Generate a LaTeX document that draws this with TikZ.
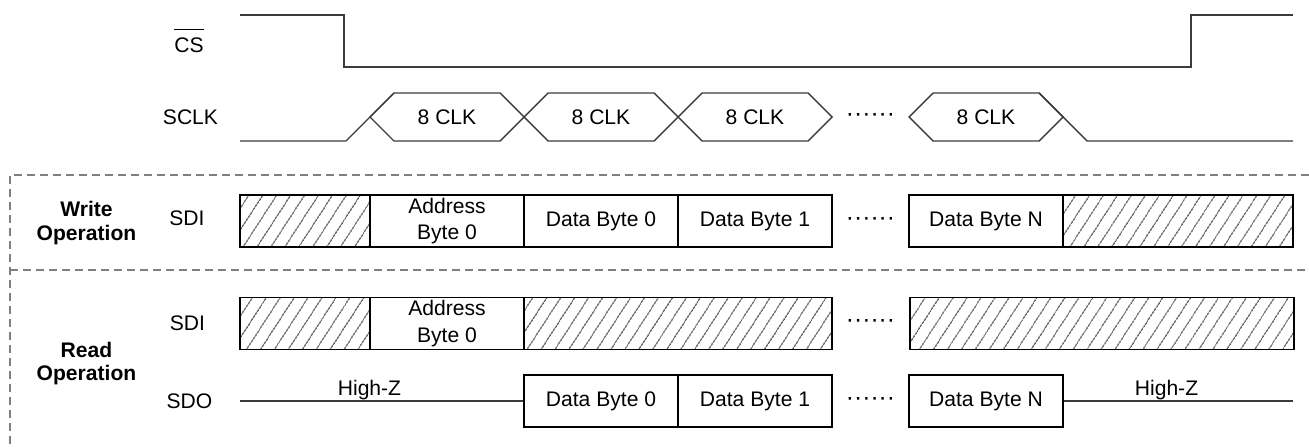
\documentclass[tikz,border=0pt]{standalone}
\usepackage{fontspec}
\setmainfont{Liberation Sans}
\usetikzlibrary{patterns.meta}
\definecolor{wire}{RGB}{60,60,60}
\definecolor{sepline}{RGB}{128,128,128}

\begin{document}
\begin{tikzpicture}[
    font=\fontsize{12}{14}\selectfont,
    wave/.style={draw=wire, line width=0.8pt},
    byte/.style={draw, line width=0.6pt, minimum width=3.08cm, minimum height=1.04cm,
      align=center, inner sep=0pt, font=\fontsize{12}{15}\selectfont},
    dontcare/.style={byte, pattern={Lines[angle=57, distance=0.235cm, line width=0.5pt]},
      pattern color=black},
    signame/.style={inner sep=0pt},
    opname/.style={inner sep=0pt, align=center, font=\fontsize{12}{13.6}\selectfont\bfseries},
    region/.style={draw=sepline, line width=0.7pt, dash pattern=on 0.16cm off 0.1cm},
  ]
    \useasboundingbox (0,0) rectangle (26.18,8.94);

    %Operation regions
    \draw [region] (26.18,5.44) -- (0.2,5.44) -- (0.2,0);
    \draw [region] (0.2,3.54) -- (26.18,3.54);

    %Signal names
    \node [signame] (lcs) at (3.78,8.04) {CS};
    \draw [line width=0.6pt] ([yshift=0.15cm]lcs.north west) -- ([yshift=0.15cm]lcs.north east);
    \node [signame] (lsclk) at (3.81,6.6) {SCLK};
    \node [opname] (lwrite) at (1.73,4.48) {Write\\Operation};
    \node [signame] (lwsdi) at (3.74,4.58) {SDI};
    \node [opname] (lread) at (1.73,1.67) {Read\\Operation};
    \node [signame] (lrsdi) at (3.75,2.47) {SDI};
    \node [signame] (lsdo) at (3.79,0.92) {SDO};

    %CS
    \draw [wave] (4.8,8.64) -- (6.88,8.64) -- (6.88,7.60) -- (23.82,7.60) -- (23.82,8.64) -- (25.86,8.64);

    %SCLK
    \draw [wave] (4.8,6.12) -- (6.92,6.12) -- (7.88,7.08);
    \draw [wave] (20.78,7.08) -- (21.74,6.12) -- (25.86,6.12);
    \foreach \c [count=\i] in {8.94,12.02,15.1,19.72} {
      \draw [wave] ({\c-1.54},6.6) -- ({\c-1.06},7.08) -- ({\c+1.06},7.08) -- ({\c+1.54},6.6)
        -- ({\c+1.06},6.12) -- ({\c-1.06},6.12) -- cycle;
      \node (clk\i) at (\c,6.6) {8 CLK};
    }

    %Write SDI
    \node [dontcare, minimum width=2.6cm] (wx0) at (6.1,4.52) {};
    \node [byte] (waddr) at (8.94,4.52) {Address\\Byte 0};
    \node [byte] (wdb0) at (12.02,4.52) {Data Byte 0};
    \node [byte] (wdb1) at (15.1,4.52) {Data Byte 1};
    \node [byte] (wdbn) at (19.72,4.52) {Data Byte N};
    \node [dontcare, minimum width=4.6cm] (wx1) at (23.56,4.52) {};

    %Read SDI
    \node [dontcare, minimum width=2.6cm] (rx0) at (6.1,2.47) {};
    \node [byte] (raddr) at (8.94,2.47) {Address\\Byte 0};
    \node [dontcare, minimum width=6.16cm] (rx1) at (13.56,2.47) {};
    \node [dontcare, minimum width=7.68cm] (rx2) at (22.04,2.47) {};

    %Read SDO
    \coordinate (zl) at (4.8,0.92);
    \coordinate (zr) at (25.86,0.92);
    \node [byte] (odb0) at (12.02,0.92) {Data Byte 0};
    \node [byte] (odb1) at (15.1,0.92) {Data Byte 1};
    \node [byte] (odbn) at (19.72,0.92) {Data Byte N};
    \draw [wave] (zl) -- (odb0.west);
    \draw [wave] (odbn.east) -- (zr);
    \node [anchor=base] (hz0) at (7.39,1.04) {High-Z};
    \node [anchor=base] (hz1) at (23.33,1.04) {High-Z};

    %Gaps
    \foreach \y/\n in {6.6/clk, 4.52/wr, 2.47/rd, 0.92/out}
      \node (dots\n) at (17.41,\y) {\raisebox{-0.03cm}{\fontsize{14}{14}\selectfont······}};

\end{tikzpicture}
\end{document}
